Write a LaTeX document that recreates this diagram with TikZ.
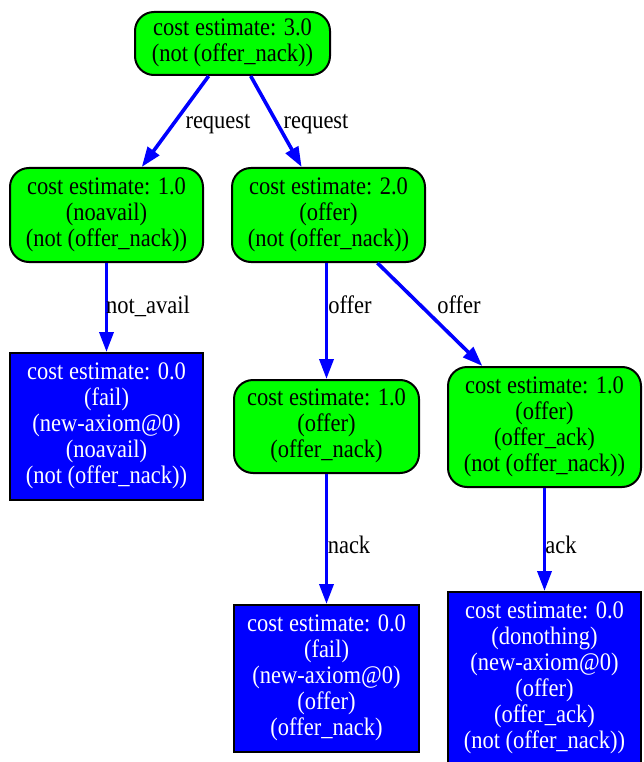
\documentclass[tikz,border=0pt]{standalone}
\usepackage{fontspec}
\usepackage{graphicx}
\setmainfont{Liberation Serif}
\usetikzlibrary{arrows.meta}
\definecolor{stategreen}{RGB}{0,255,0}
\definecolor{stateblue}{RGB}{0,0,255}
% centred lines, set a little taller than wide
\newcommand{\tallines}[1]{\scalebox{1}[1.12]{\begin{tabular}{@{}c@{}}#1\end{tabular}}}
\tikzset{
  state/.style={draw=black, line width=2pt, fill=stategreen, rounded corners=19pt,
    inner sep=0pt, font=\fontsize{22.5}{23.2}\selectfont},
  goal/.style={draw=black, line width=2pt, fill=stateblue, text=white,
    inner sep=0pt, font=\fontsize{22.5}{23.2}\selectfont},
  trans/.style={draw=stateblue, line width=3.6pt, -{Triangle[length=20pt,width=14pt]}},
  elabel/.style={inner sep=0pt, font=\fontsize{22.5}{23.2}\selectfont}
}
\begin{document}
\begin{tikzpicture}[x=1pt,y=-1pt]
\useasboundingbox (0,0) rectangle (643,762);

% search states
\node[state, minimum width=195pt, minimum height=63pt] (s0) at (232.5,43.5)
  {\tallines{cost estimate: 3.0\\(not (offer\_nack))}};
\node[state, minimum width=193pt, minimum height=94pt] (s1) at (106.5,215)
  {\tallines{cost estimate: 1.0\\(noavail)\\(not (offer\_nack))}};
\node[state, minimum width=193pt, minimum height=94pt] (s2) at (328.5,215)
  {\tallines{cost estimate: 2.0\\(offer)\\(not (offer\_nack))}};
\node[goal, minimum width=193pt, minimum height=147pt] (g1) at (106.5,426.5)
  {\tallines{cost estimate: 0.0\\(fail)\\(new-axiom@0)\\(noavail)\\(not (offer\_nack))}};
\node[state, minimum width=185pt, minimum height=93pt] (s3) at (326.5,426.5)
  {\tallines{cost estimate: 1.0\\(offer)\\(offer\_nack)}};
\node[state, minimum width=193pt, minimum height=120pt] (s4) at (544.5,427)
  {\tallines{cost estimate: 1.0\\(offer)\\(offer\_ack)\\(not (offer\_nack))}};
\node[goal, minimum width=185pt, minimum height=147pt] (g2) at (326.5,678.5)
  {\tallines{cost estimate: 0.0\\(fail)\\(new-axiom@0)\\(offer)\\(offer\_nack)}};
\node[goal, minimum width=193pt, minimum height=173pt] (g3) at (544.5,678.5)
  {\tallines{cost estimate: 0.0\\(donothing)\\(new-axiom@0)\\(offer)\\(offer\_ack)\\(not (offer\_nack))}};

% transitions
\draw[trans] (s0) -- (s1);
\draw[trans] (s0) -- (s2);
\draw[trans] (s1) -- (g1);
\draw[trans] (s2.south -| s3.north) -- (s3);
\draw[trans] (s2) -- (s4);
\draw[trans] (s3) -- (g2);
\draw[trans] (s4) -- (g3);

% transition labels
\node[elabel] (l1) at (218,123) {\tallines{request}};
\node[elabel] (l2) at (316,123) {\tallines{request}};
\node[elabel] (l3) at (148,308) {\tallines{not\_avail}};
\node[elabel] (l4) at (350,308) {\tallines{offer}};
\node[elabel] (l5) at (459,308) {\tallines{offer}};
\node[elabel] (l6) at (349,548) {\tallines{nack}};
\node[elabel] (l7) at (561,548) {\tallines{ack}};
\end{tikzpicture}
\end{document}
